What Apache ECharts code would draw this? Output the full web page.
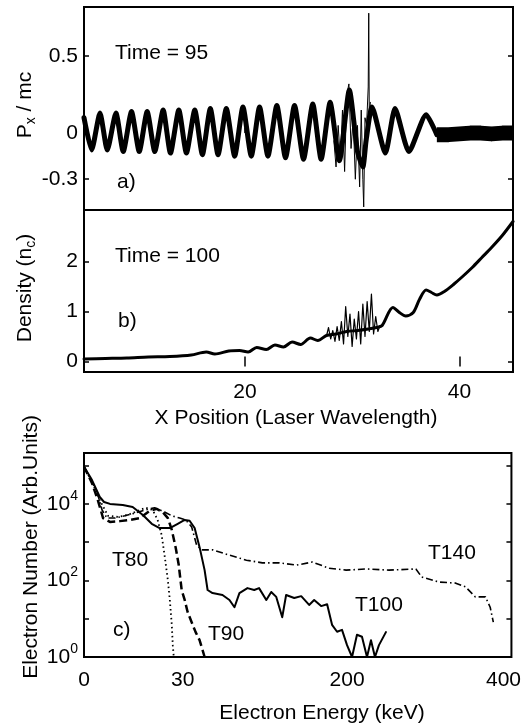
<!DOCTYPE html>
<html>
<head>
<meta charset="utf-8">
<script src="https://cdn.jsdelivr.net/npm/echarts@6/dist/echarts.min.js"></script>
<style>
html, body { margin: 0; padding: 0; background: #fff; }
#chart { width: 524px; height: 727px; }
</style>
</head>
<body>
<div id="chart"></div>
<script>
// ---- a) Px/mc at time 95 (peaks / troughs of the wave) ----
var pxX = [5.0, 5.71, 6.49, 7.17, 7.98, 8.66, 9.43, 10.15, 10.89, 11.60, 12.38, 13.06, 13.84, 14.55, 15.33, 16.04, 16.78, 17.50, 18.27, 19.05,
	19.82, 20.60, 21.37, 22.15, 22.98, 23.79, 24.63, 25.47, 26.33, 27.11, 27.95, 28.81, 29.74, 30.5, 31.0, 31.3, 31.85, 33.1, 34.0, 35.3, 36.9, 37.9];
var pxY = [0.10, -0.11, 0.13, -0.11, 0.13, -0.12, 0.14, -0.12, 0.14, -0.12, 0.15, -0.13, 0.15, -0.13, 0.15, -0.14, 0.16, -0.14, 0.16, -0.15,
	0.17, -0.15, 0.17, -0.15, 0.18, -0.16, 0.18, -0.17, 0.19, -0.17, 0.20, -0.18, 0.28, -0.12, -0.22, -0.05, 0.17, -0.13, 0.16, -0.12, 0.12, -0.01];
// flat noisy tail behind the front
var pxTailX = [37.9, 39, 40, 41, 42, 43, 44, 45];
var pxTailY = [-0.01, -0.01, -0.005, 0, 0, -0.005, 0, 0];
// thin spiky part near x = 30
var pxNoiseX = [28.3, 28.5, 28.7, 28.9, 29.1, 29.3, 29.5, 29.7, 29.9, 30.1, 30.3, 30.5, 30.7, 30.85, 31.0, 31.08, 31.2, 31.35, 31.5, 31.55, 31.6, 31.7];
var pxNoiseY = [-0.05, -0.22, 0.05, -0.18, 0.15, -0.25, 0.25, 0.32, -0.1, 0.1, -0.3, 0.05, -0.35, 0.15, -0.3, -0.48, 0.1, 0.05, 0.3, 0.78, 0.1, 0.2];

// ---- b) density at time 100 ----
var densX = [5, 7, 9, 11, 13, 15, 16.4, 17.2, 18.5, 19.5, 20.3, 21.1, 22.0, 22.8, 23.6, 24.4, 25.2, 26.1, 26.8, 27.6, 28.5, 29.5, 30.5, 31.5,
	32.3, 32.8, 33.8, 34.4, 35.0, 35.7, 36.3, 36.9, 37.4, 37.9, 38.6, 39.5, 40.3, 41.2, 42.1, 43.0, 44.0, 45.0];
var densY = [0.05, 0.06, 0.07, 0.09, 0.10, 0.13, 0.19, 0.15, 0.21, 0.22, 0.19, 0.28, 0.24, 0.33, 0.29, 0.39, 0.34, 0.47, 0.42, 0.52, 0.55, 0.60, 0.62, 0.65,
	0.68, 0.72, 1.08, 0.98, 0.91, 0.98, 1.25, 1.43, 1.38, 1.33, 1.40, 1.55, 1.70, 1.88, 2.08, 2.28, 2.52, 2.80];
var densNoiseX = [27.6, 27.8, 28.0, 28.2, 28.4, 28.6, 28.8, 29.0, 29.2, 29.4, 29.6, 29.8, 30.0, 30.2, 30.4, 30.6, 30.8, 31.0, 31.2, 31.4, 31.6, 31.8, 32.0, 32.2, 32.4, 32.6];
var densNoiseY = [0.5, 0.68, 0.45, 0.62, 0.4, 0.7, 0.42, 0.8, 0.35, 1.1, 0.5, 0.95, 0.3, 0.85, 0.45, 1.0, 0.35, 1.15, 0.5, 1.2, 0.6, 1.35, 0.55, 0.9, 0.6, 0.72];

// ---- c) electron spectra, energy in keV, log10 of electron number ----
var t80E = [0, 2.4, 4.8, 7.3, 10.3, 13.3, 16.4, 18.8, 20.9, 22.4, 23.6, 24.5, 25.5, 26.1, 26.7, 27.0, 27.3];
var t80Log = [4.97, 4.58, 4.10, 3.69, 3.66, 3.71, 3.82, 3.90, 3.84, 3.58, 3.19, 2.66, 2.01, 1.49, 0.84, 0.31, 0];
var t90E = [0, 2.4, 4.2, 5.8, 7.9, 10.9, 13.9, 17.0, 20.0, 22.1, 23.9, 25.5, 26.7, 27.9, 28.8, 29.7, 32.1, 35.2, 39.3, 43.4, 47.5, 50.6, 52.7];
var t90Log = [4.97, 4.55, 4.10, 3.63, 3.53, 3.55, 3.58, 3.63, 3.82, 3.87, 3.79, 3.63, 3.32, 2.85, 2.41, 1.75, 1.49, 1.17, 0.91, 0.65, 0.44, 0.18, 0];
var t100E = [0, 2.4, 4.8, 6.1, 7.9, 11.8, 14.8, 17.9, 20.6, 23.0, 26.1, 28.5, 32.1, 37.2, 42.4, 47.5, 52.7, 55.8, 60.9, 71.2, 78.4, 83.6, 88.7, 97,
	104, 109, 116.5, 121.6, 126.8, 133, 137, 145.4, 152.6, 160.8, 166, 173.2, 179.4, 184.5, 189.7, 194.8, 200, 206.4, 212.7, 219.1, 225.5, 230.6, 235.7, 240.8, 249.7];
var t100Log = [4.97, 4.63, 4.18, 4.05, 4.0, 3.97, 3.92, 3.71, 3.48, 3.37, 3.37, 3.48, 3.58, 3.56, 3.37, 2.87, 2.27, 1.75, 1.67, 1.62, 1.49, 1.30, 1.67, 1.80,
	1.75, 1.80, 1.49, 1.70, 1.57, 1.04, 1.62, 1.54, 1.59, 1.36, 1.49, 1.33, 1.38, 0.84, 0.66, 0.71, 0.31, 0, 0.58, 0.53, 0, 0.44, 0, 0.31, 0.65];
var t140E = [0, 2.4, 4.2, 5.5, 7.0, 9.4, 12.4, 15.5, 18.5, 21.5, 24.5, 26.7, 29.1, 33.1, 39.3, 44.4, 49.6, 60.9, 78.4, 95.9, 112.4, 130, 147.5, 164,
	181.5, 199, 224, 253.5, 288, 295.5, 317, 339, 351.6, 364, 377, 383, 387];
var t140Log = [4.97, 4.58, 4.24, 3.84, 3.63, 3.63, 3.69, 3.76, 3.84, 3.90, 3.79, 3.69, 3.63, 3.58, 3.40, 2.93, 2.80, 2.80, 2.66, 2.53, 2.46, 2.46, 2.40, 2.48,
	2.32, 2.27, 2.30, 2.27, 2.30, 2.09, 1.96, 1.93, 1.83, 1.57, 1.57, 1.30, 0.91];

// tick values
var pxTicks = [-0.3, 0, 0.5];
var densTicks = [0, 1, 2];
var posTicks = [20, 40];
var decadeTicks = [0, 1, 2, 3, 4, 5];
var decadeLabels = [0, 2, 4];
var energyTicks = [0, 30, 200, 400];

// the energy axis of c) is stretched below 30 keV: piecewise scale
var energyKnots = [0, 30, 200, 400, 410];
var axisKnots = [0, 0.2308, 0.6154, 0.9814, 1];
function energyToAxis(e) {
	for (var i = 1; i < energyKnots.length; i++) {
		if (e <= energyKnots[i]) {
			var t = (e - energyKnots[i - 1]) / (energyKnots[i] - energyKnots[i - 1]);
			return axisKnots[i - 1] + t * (axisKnots[i] - axisKnots[i - 1]);
		}
	}
	return 1;
}
function axisToEnergy(u) {
	var best = 0;
	for (var i = 0; i < axisKnots.length; i++) {
		if (Math.abs(axisKnots[i] - u) < Math.abs(axisKnots[best] - u)) best = i;
	}
	return energyKnots[best];
}

function zip(xs, ys) {
	return xs.map(function (x, i) { return [x, ys[i]]; });
}
function zipEnergy(es, ls) {
	return es.map(function (e, i) { return [energyToAxis(e), ls[i]]; });
}

var FONT = '"Liberation Sans", Arial, Helvetica, sans-serif';
var FS = 21;

function tickStyle(values) {
	return { show: true, inside: true, length: 5, customValues: values, lineStyle: { color: '#000', width: 1.5 } };
}
function xAx(grid, pos, min, max, ticks, labels) {
	return {
		type: 'value', gridIndex: grid, position: pos, min: min, max: max,
		axisLine: { show: false }, splitLine: { show: false },
		axisTick: ticks ? tickStyle(ticks) : { show: false },
		axisLabel: labels ? { show: true, customValues: labels, color: '#000', fontSize: FS, fontFamily: FONT, margin: 10 } : { show: false }
	};
}
function yAx(grid, pos, min, max, ticks, labels, fmt) {
	var o = {
		type: 'value', gridIndex: grid, position: pos, min: min, max: max,
		axisLine: { show: false }, splitLine: { show: false },
		axisTick: tickStyle(ticks),
		axisLabel: { show: false }
	};
	if (labels) {
		o.axisLabel = { show: true, customValues: labels, color: '#000', fontSize: FS, fontFamily: FONT, margin: 6 };
		if (fmt) o.axisLabel.formatter = fmt;
	}
	return o;
}

function line(xi, yi, data, width, type, smooth, cap) {
	return {
		type: 'line', xAxisIndex: xi, yAxisIndex: yi, data: data,
		showSymbol: false, symbol: 'none', animation: false, silent: true, smooth: smooth || false,
		lineStyle: { color: '#000', width: width, type: type || 'solid', cap: cap || 'round', join: 'round' }
	};
}

function txt(x, y, text, align) {
	return {
		type: 'text', x: x, y: y, silent: true,
		style: { text: text, fill: '#000', fontSize: FS, fontFamily: FONT, align: align || 'left', verticalAlign: 'middle' }
	};
}
function vtxt(x, y, text) {
	return {
		type: 'text', x: x, y: y, rotation: Math.PI / 2, silent: true,
		style: {
			text: text, fill: '#000', fontSize: FS, fontFamily: FONT, align: 'center', verticalAlign: 'middle',
			rich: { s: { fontSize: 14, fontFamily: FONT, lineHeight: 14, padding: [12, 0, 0, 0] } }
		}
	};
}

var chart = echarts.init(document.getElementById('chart'), null, { renderer: 'canvas' });
var gridBase = { show: true, borderColor: '#000', borderWidth: 2, backgroundColor: 'transparent', containLabel: false };

chart.setOption({
	backgroundColor: '#fff',
	animation: false,
	grid: [
		Object.assign({ left: 84, top: 7, width: 429, height: 203 }, gridBase),
		Object.assign({ left: 84, top: 210, width: 429, height: 162 }, gridBase),
		Object.assign({ left: 84, top: 453, width: 429, height: 204 }, gridBase)
	],
	xAxis: [
		xAx(0, 'bottom', 5, 45, posTicks, null),
		xAx(1, 'bottom', 5, 45, posTicks, posTicks),
		xAx(1, 'top', 5, 45, posTicks, null),
		{
			type: 'value', gridIndex: 2, position: 'bottom', min: 0, max: 1,
			axisLine: { show: false }, splitLine: { show: false }, axisTick: { show: false },
			axisLabel: {
				show: true, customValues: energyTicks.map(energyToAxis), color: '#000', fontSize: FS, fontFamily: FONT, margin: 13,
				formatter: function (v) { return String(axisToEnergy(v)); }
			}
		}
	],
	yAxis: [
		yAx(0, 'left', -0.5, 0.82, pxTicks, pxTicks, function (v) { return String(v); }),
		yAx(0, 'right', -0.5, 0.82, pxTicks, null),
		yAx(1, 'left', -0.21, 3.03, densTicks, densTicks),
		yAx(1, 'right', -0.21, 3.03, densTicks, null),
		(function () {
			var a = yAx(2, 'left', 0, 5.33, decadeTicks, decadeLabels, function (v) {
				return '{b|10}{s|' + Math.round(v) + '}';
			});
			a.axisLabel.rich = {
				b: { fontSize: FS, fontFamily: FONT, color: '#000' },
				s: { fontSize: 14, fontFamily: FONT, color: '#000', lineHeight: 14, padding: [0, 0, 16, 0] }
			};
			return a;
		})(),
		yAx(2, 'right', 0, 5.33, decadeTicks, null)
	],
	series: [
		line(0, 0, zip(pxX, pxY), 5, 'solid', 0.2),
		line(0, 0, zip(pxTailX, pxTailY), 15, 'solid', false, 'butt'),
		line(0, 0, zip(pxNoiseX, pxNoiseY), 1),
		line(1, 2, zip(densX, densY), 3, 'solid', 0.3),
		line(1, 2, zip(densNoiseX, densNoiseY), 1.2),
		line(3, 4, zipEnergy(t80E, t80Log), 1.8, [1.5, 3], false, 'butt'),
		line(3, 4, zipEnergy(t90E, t90Log), 2.5, [8, 4], false, 'butt'),
		line(3, 4, zipEnergy(t100E, t100Log), 2),
		line(3, 4, zipEnergy(t140E, t140Log), 1.6, [7, 3, 1.5, 3], false, 'butt')
	],
	graphic: [
		txt(115, 53, 'Time = 95'),
		txt(117, 182, 'a)'),
		txt(115, 256, 'Time = 100'),
		txt(118, 321, 'b)'),
		txt(112, 560, 'T80'),
		txt(113, 630, 'c)'),
		txt(208, 634, 'T90'),
		txt(355, 605, 'T100'),
		txt(428, 553, 'T140'),
		vtxt(25, 105, 'P{s|x} / mc'),
		vtxt(25, 288, 'Density (n{s|c})'),
		vtxt(31, 547, 'Electron Number (Arb.Units)'),
		txt(296, 418, 'X Position (Laser Wavelength)', 'center'),
		txt(322, 713, 'Electron Energy (keV)', 'center')
	]
});
</script>
</body>
</html>
